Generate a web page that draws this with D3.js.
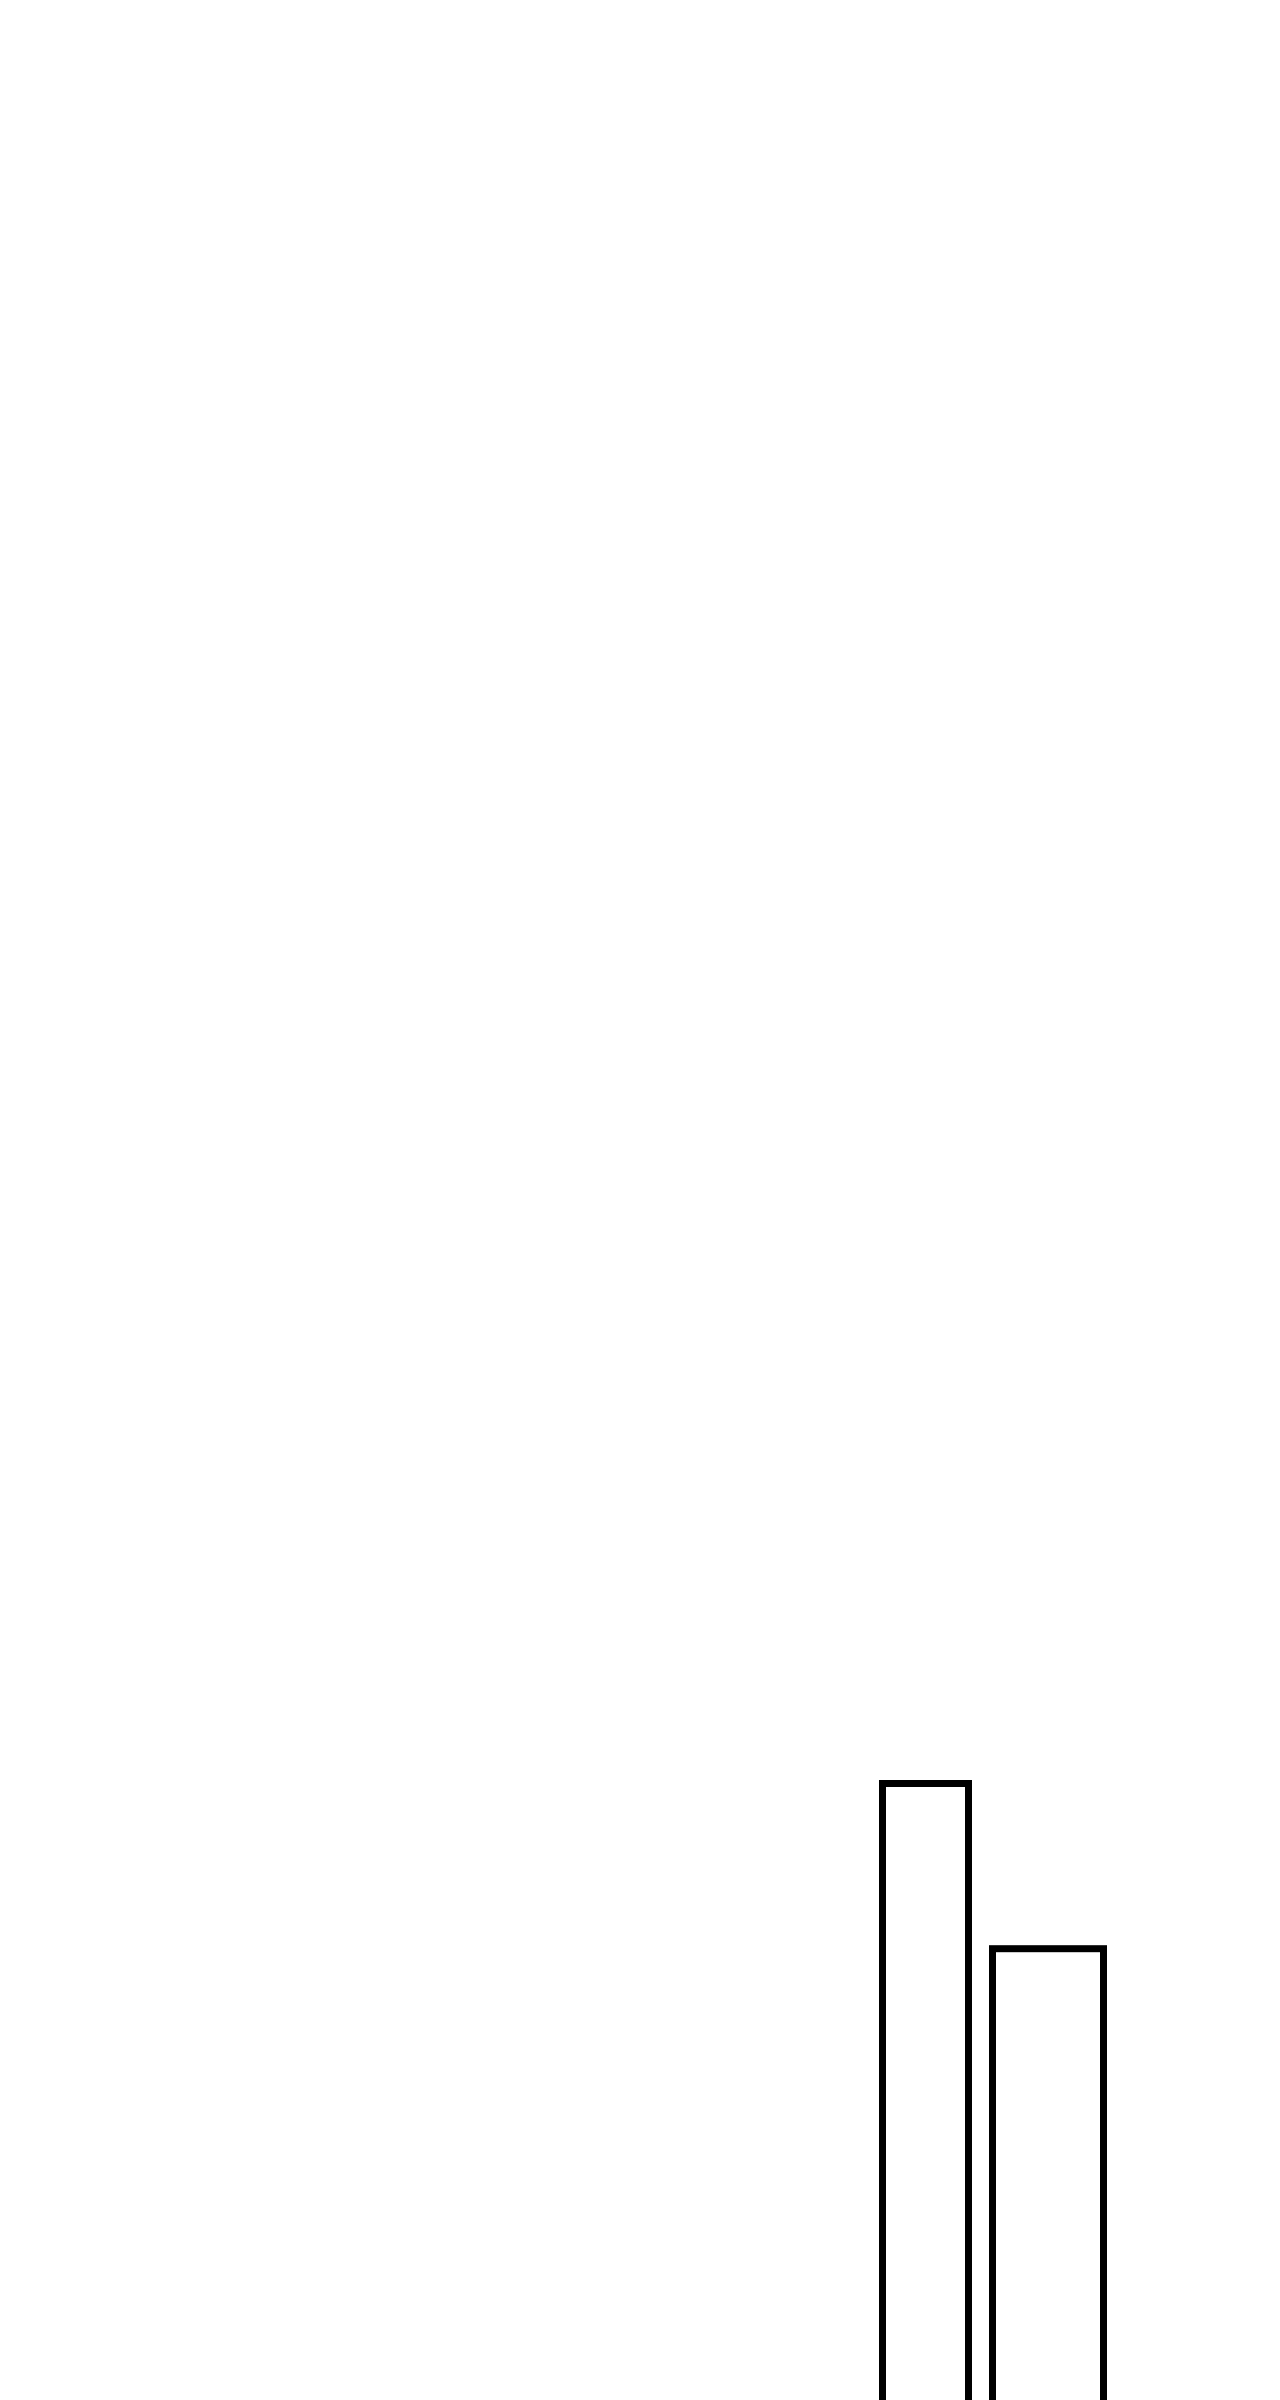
<!DOCTYPE html>
<html>
<head>
<meta charset="utf-8">
<script src="https://cdn.jsdelivr.net/npm/d3@7"></script>
<style>
  html, body { margin: 0; padding: 0; background: #fff; overflow: hidden; }
  svg { display: block; }
</style>
</head>
<body>
<div id="chart"></div>
<script>
/*
 two outlined bars of unequal width, cropped at the bottom edge
*/

// data
const categories = ["A", "B"];
const values = [100, 76.4];      // bar heights
const widths = [86, 111];        // relative bar widths

const width = 1280, height = 2400;
const gap = 24;                  // space between bars, in width units
const strokeW = 7;

const svg = d3.select("#chart").append("svg")
    .attr("width", width)
    .attr("height", height)
    .attr("viewBox", [0, 0, width, height]);

// cumulative starts for variable-width bars
var starts = [];
var acc = 0;
widths.forEach((w, i) => {
    starts.push(acc);
    acc += w + (i < widths.length - 1 ? gap : 0);
});

const xscale = d3.scaleLinear()
    .domain([0, acc])
    .range([882.5, 1103.5]);

// baseline sits below the visible area
const yscale = d3.scaleLinear()
    .domain([0, d3.max(values)])
    .range([2483.5, 1783.5]);

svg.append("g")
    .attr("fill", "#fff")
    .attr("stroke", "#000")
    .attr("stroke-width", strokeW)
    .attr("stroke-linejoin", "miter")
    .selectAll("rect")
    .data(categories)
    .join("rect")
    .attr("x", (d, i) => xscale(starts[i]))
    .attr("y", (d, i) => yscale(values[i]))
    .attr("width", (d, i) => xscale(starts[i] + widths[i]) - xscale(starts[i]))
    .attr("height", (d, i) => yscale(0) - yscale(values[i]));
</script>
</body>
</html>
